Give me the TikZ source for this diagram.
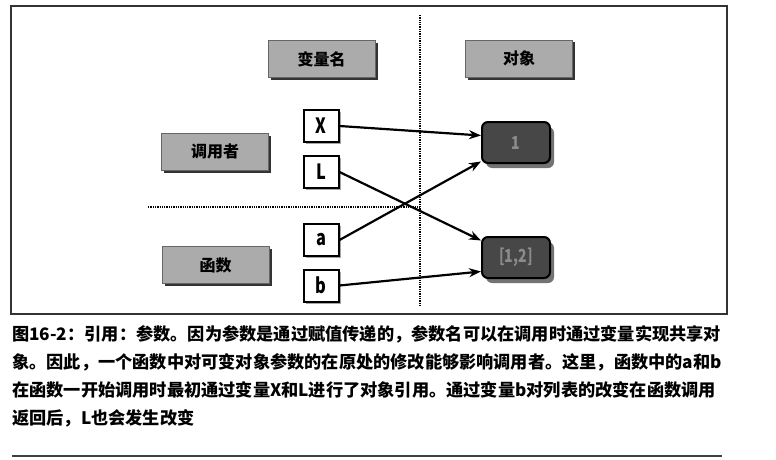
\documentclass[tikz,border=0pt]{standalone}
\usepackage{fontspec}
\setmainfont{Noto Sans CJK SC}
\newfontfamily\narrowfont{Noto Sans CJK SC}[FakeStretch=0.78]
\usetikzlibrary{arrows.meta,shadows,calc}
\tikzset{
  x=1pt,y=-1pt,
  lbl/.style={draw=black!60, line width=0.6pt, fill=black!33, minimum width=107pt, minimum height=37pt,
    inner sep=0pt, font=\fontsize{16}{16}\selectfont\bfseries,
    drop shadow={shadow xshift=2.5pt, shadow yshift=-2.5pt, fill=black!80, opacity=1}},
  var/.style={draw=black, line width=2pt, fill=white, minimum width=35pt, minimum height=32pt,
    inner sep=0pt, font=\narrowfont\fontsize{21}{21}\selectfont\bfseries,
    drop shadow={shadow xshift=2pt, shadow yshift=-2pt, fill=black!35, opacity=1}},
  obj/.style={draw=black, line width=2pt, fill=black!72, rounded corners=6pt, minimum width=68pt,
    minimum height=41pt, inner sep=0pt, text=black!45, font=\narrowfont\fontsize{18}{18}\selectfont\bfseries,
    drop shadow={shadow xshift=4pt, shadow yshift=-5pt, fill=black!55, opacity=1}},
  ref/.style={line width=2.2pt, -{Stealth[length=12pt,width=9pt]}},
  sep/.style={line width=2pt, dash pattern=on 1.3pt off 1pt},
  captxt/.style={anchor=base west, inner sep=0pt, font=\fontsize{17.2}{17.2}\selectfont\bfseries},
}
\begin{document}
\begin{tikzpicture}
\useasboundingbox (0,0) rectangle (776,460);
\fill[white] (0,0) rectangle (776,460);
% frame
\draw[line width=1.1pt, black!80] (11,6) rectangle (727,314);
% separators
\coordinate (vt) at (420,15);
\coordinate (vb) at (420,306);
\coordinate (hl) at (148,207);
\coordinate (hr) at (420,207);
\draw[sep] (vt) -- (vb);
\draw[sep] (hl) -- (hr);
% header and side labels
\node[lbl] (names) at (321.5,59) {变量名};
\node[lbl] (objs) at (519,58.5) {对象};
\node[lbl] (caller) at (215,151.5) {调用者};
\node[lbl] (func) at (215.5,265) {函数};
% variables
\node[var] (X) at (321,126) {X};
\node[var] (L) at (321,172) {L};
\node[var] (a) at (321,240) {a};
\node[var] (b) at (321,285.5) {b};
% objects
\node[obj] (o1) at (516,142.5) {1};
\node[obj] (o2) at (516,257.5) {[1,2]};
% references
\draw[ref] (X.east) -- ($(o1.west)+(0,-7)$);
\draw[ref] (a.east) -- ($(o1.west)+(0,19)$);
\draw[ref] (L.east) -- ($(o2.west)+(0,-17)$);
\draw[ref] (b.east) -- ($(o2.west)+(0,14)$);
% caption
\node[captxt] (c1) at (12,340) {图16-2：引用：参数。因为参数是通过赋值传递的，参数名可以在调用时通过变量实现共享对};
\node[captxt] (c2) at (12,368) {象。因此，一个函数中对可变对象参数的在原处的修改能够影响调用者。这里，函数中的a和b};
\node[captxt] (c3) at (12,396) {在函数一开始调用时最初通过变量X和L进行了对象引用。通过变量b对列表的改变在函数调用};
\node[captxt] (c4) at (12,424) {返回后，L也会发生改变};
% bottom rule
\coordinate (rl) at (12,456);
\coordinate (rr) at (722,456);
\draw[line width=1.8pt, black!75] (rl) -- (rr);
\end{tikzpicture}
\end{document}
